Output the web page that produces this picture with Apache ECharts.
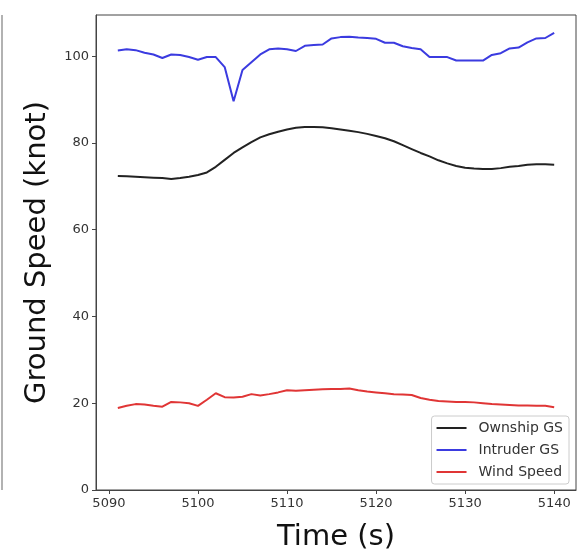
<!DOCTYPE html>
<html>
<head>
<meta charset="utf-8">
<script src="https://cdn.jsdelivr.net/npm/echarts@6/dist/echarts.min.js"></script>
<style>
html,body{margin:0;padding:0;background:#fff;}
#c{width:578px;height:555px;}
</style>
</head>
<body>
<div id="c"></div>
<script>
var times = [5091,5092,5093,5094,5095,5096,5097,5098,5099,5100,5101,5102,5103,5104,5105,5106,5107,5108,5109,5110,5111,5112,5113,5114,5115,5116,5117,5118,5119,5120,5121,5122,5123,5124,5125,5126,5127,5128,5129,5130,5131,5132,5133,5134,5135,5136,5137,5138,5139,5140];
var ownshipGS = [72.4,72.3,72.2,72.1,72.0,71.9,71.7,71.9,72.2,72.6,73.2,74.5,76.1,77.7,79.0,80.2,81.3,82.0,82.6,83.1,83.5,83.7,83.7,83.6,83.4,83.1,82.8,82.5,82.1,81.6,81.1,80.4,79.5,78.6,77.7,76.9,76.0,75.3,74.7,74.3,74.1,74.0,74.0,74.2,74.5,74.7,75.0,75.1,75.1,75.0];
var intruderGS = [101.3,101.6,101.4,100.8,100.4,99.6,100.4,100.3,99.8,99.2,99.8,99.8,97.5,89.6,96.8,98.6,100.4,101.6,101.8,101.6,101.2,102.4,102.6,102.7,104.1,104.4,104.5,104.3,104.2,104.0,103.1,103.1,102.3,101.9,101.6,99.8,99.8,99.8,99.0,99.0,99.0,99.0,100.3,100.7,101.8,102.0,103.2,104.1,104.2,105.4];
var windSpeed = [18.9,19.4,19.8,19.7,19.4,19.2,20.3,20.2,20.0,19.4,20.8,22.3,21.4,21.3,21.5,22.1,21.8,22.1,22.5,23.0,22.9,23.0,23.1,23.2,23.3,23.3,23.4,23.0,22.7,22.5,22.3,22.1,22.0,21.9,21.2,20.8,20.5,20.4,20.3,20.3,20.2,20.0,19.8,19.7,19.6,19.5,19.5,19.4,19.4,19.1];
var xTicks = [5090,5100,5110,5120,5130,5140];
var yTicks = [0,20,40,60,80,100];
var seriesNames = ['Ownship GS','Intruder GS','Wind Speed'];

function pairs(vals){ return times.map(function(t,i){ return [t, vals[i]]; }); }

var chart = echarts.init(document.getElementById('c'), null, {renderer:'canvas'});
var font = 'DejaVu Sans';
var axisColor = '#444';
chart.setOption({
  animation:false,
  backgroundColor:'#fff',
  textStyle:{fontFamily:font},
  grid:{left:96,right:2,top:15,bottom:65,show:true,borderColor:axisColor,borderWidth:1,containLabel:false,outerBoundsMode:'none'},
  xAxis:{
    type:'value', min:5088.55, max:5142.45,
    name:'Time (s)', nameLocation:'middle', nameGap:33,
    nameTextStyle:{fontSize:29,color:'#111',fontFamily:font},
    axisLine:{show:true,lineStyle:{color:axisColor,width:1}},
    axisTick:{show:true,length:4,customValues:xTicks,lineStyle:{color:axisColor}},
    axisLabel:{customValues:xTicks,fontSize:13,color:'#333',margin:7,fontFamily:font,formatter:function(v){return String(v);}},
    splitLine:{show:false}
  },
  yAxis:{
    type:'value', min:0, max:109.5,
    name:'Ground Speed (knot)', nameLocation:'middle', nameGap:44, nameRotate:90,
    nameTextStyle:{fontSize:29,color:'#111',fontFamily:font},
    axisLine:{show:true,lineStyle:{color:axisColor,width:1}},
    axisTick:{show:true,length:4,customValues:yTicks,lineStyle:{color:axisColor}},
    axisLabel:{customValues:yTicks,fontSize:13,color:'#333',margin:7,fontFamily:font,formatter:function(v){return String(v);}},
    splitLine:{show:false}
  },
  legend:{
    data:seriesNames, orient:'vertical', right:9, bottom:71,
    icon:'rect', itemWidth:30, itemHeight:2, itemGap:8,
    backgroundColor:'rgba(255,255,255,0.85)', borderColor:'#ccc', borderWidth:1, borderRadius:3,
    padding:[5,6,5,5],
    textStyle:{fontSize:14,color:'#333',fontFamily:font,padding:[0,0,0,7]}
  },
  graphic:[{type:'line',shape:{x1:2,y1:15,x2:2,y2:490},style:{stroke:'#999',lineWidth:1.5},silent:true}],
  series:[
    {name:seriesNames[0],type:'line',data:pairs(ownshipGS),showSymbol:false,symbol:'none',lineStyle:{color:'#222',width:2},itemStyle:{color:'#222'}},
    {name:seriesNames[1],type:'line',data:pairs(intruderGS),showSymbol:false,symbol:'none',lineStyle:{color:'#3b3be0',width:2},itemStyle:{color:'#3b3be0'}},
    {name:seriesNames[2],type:'line',data:pairs(windSpeed),showSymbol:false,symbol:'none',lineStyle:{color:'#e03535',width:2},itemStyle:{color:'#e03535'}}
  ]
});
</script>
</body>
</html>
